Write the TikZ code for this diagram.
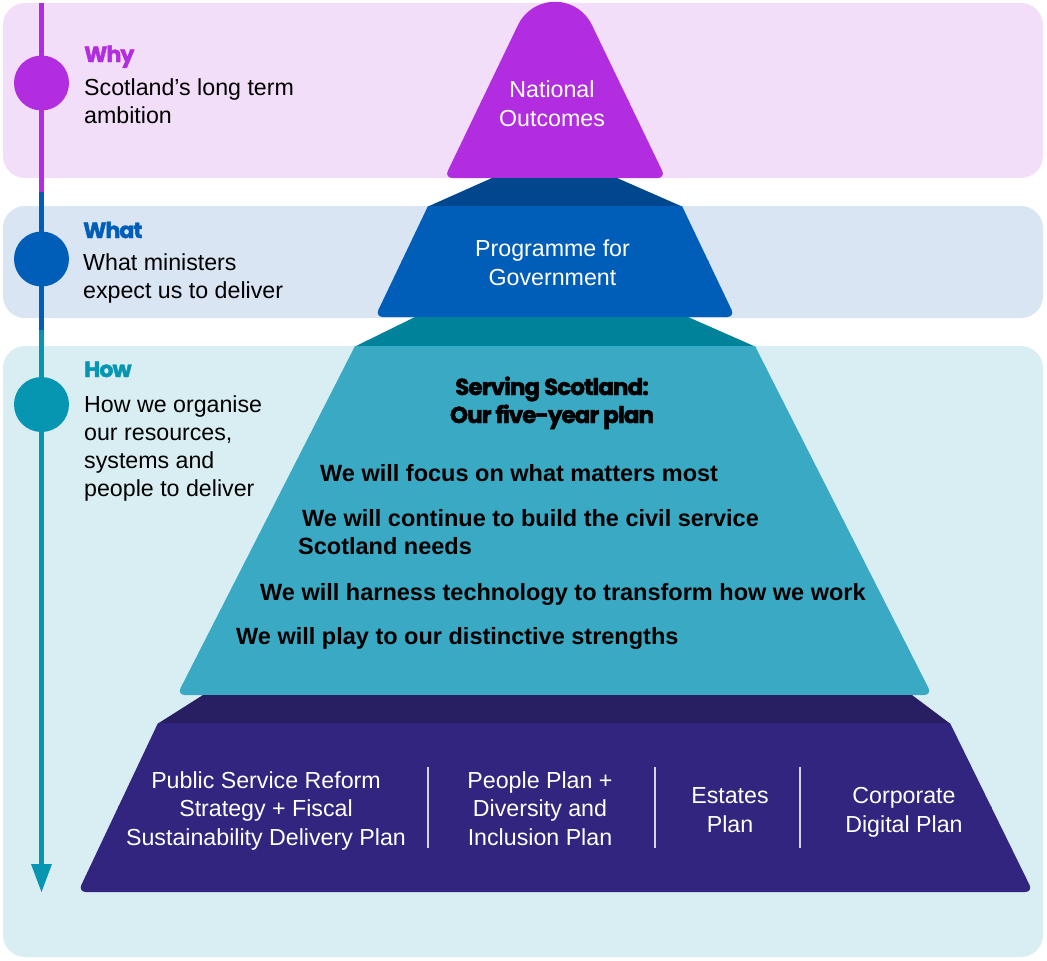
\documentclass[tikz,border=0pt]{standalone}
\usepackage{fontspec}
\setmainfont{Liberation Sans}
\newfontfamily\pop{Poppins}[LetterSpace=-4, BoldFeatures={FakeBold=2}]
\definecolor{whybg}{HTML}{F3DEF9}
\definecolor{whatbg}{HTML}{D9E5F3}
\definecolor{howbg}{HTML}{D9EEF3}
\definecolor{cwhy}{HTML}{B22DDF}
\definecolor{cwhat}{HTML}{005EB8}
\definecolor{chow}{HTML}{0696B2}
\definecolor{connA}{HTML}{00478D}
\definecolor{connB}{HTML}{00829B}
\definecolor{serv}{HTML}{3AA9C4}
\definecolor{connC}{HTML}{281E62}
\definecolor{basec}{HTML}{31257F}
\newcommand\pyrtrap[7]{%
  \begin{scope}
    \clip (0,{#2-1}) rectangle (1047,{(#2+#3)/2});
    \fill[#1] (#4,#2) -- (#5,#2) -- (#7,#3) -- (#6,#3) -- cycle;
  \end{scope}
  \begin{scope}
    \clip (0,{(#2+#3)/2-1}) rectangle (1047,{#3+2});
    \fill[#1,rounded corners=8] (#4,#2) -- (#5,#2) -- (#7,#3) -- (#6,#3) -- cycle;
  \end{scope}}
\tikzset{
  body/.style={font=\fontsize{23.2}{28}\selectfont, inner sep=0, anchor=base west},
  wtext/.style={font=\fontsize{23.2}{28}\selectfont, text=white, inner sep=0, anchor=base},
  btext/.style={font=\fontsize{23.5}{28}\selectfont\bfseries, inner sep=0, anchor=base west},
  head/.style={font=\pop\bfseries\fontsize{22}{26}\selectfont, inner sep=0, anchor=base west},
  title/.style={font=\pop\bfseries\fontsize{23}{26}\selectfont, inner sep=0, anchor=base},
  dot/.style={circle, inner sep=0, minimum size=55pt},
  divider/.style={draw=white, draw opacity=0.8, line width=1.2pt},
  band/.style={rounded corners=22},
}
\begin{document}
\begin{tikzpicture}[x=1pt,y=-1pt]
\useasboundingbox (0,0) rectangle (1047,961);
% bands
\fill[whybg, band] (3,3) rectangle (1043,178);
\fill[whatbg, band] (3,206) rectangle (1043,318);
\fill[howbg, band] (3,346) rectangle (1043,957);
% timeline
\fill[cwhy] (38.5,3) rectangle (43.5,192);
\fill[cwhat] (38.5,192) rectangle (43.5,330);
\fill[chow] (38.5,330) rectangle (43.5,866);
\fill[chow] (31,864) -- (52,864) -- (41.5,892) -- cycle;
\node[dot, fill=cwhy] (whydot) at (41.5,83) {};
\node[dot, fill=cwhat] (whatdot) at (41.5,259) {};
\node[dot, fill=chow] (howdot) at (41.5,404.5) {};
% National Outcomes
\begin{scope}
  \clip (0,-10) rectangle (1047,100);
  \fill[cwhy] (444.4,178) -- (518,25) arc[start angle=205.64, end angle=334.36, radius=41] -- (665.6,178) -- cycle;
\end{scope}
\begin{scope}
  \clip (0,99) rectangle (1047,180);
  \fill[cwhy, rounded corners=8] (444.4,178) -- (518,25) -- (592,25) -- (665.6,178) -- cycle;
\end{scope}
% connectors and layers
\fill[connA] (492,178) -- (617,178) -- (682,206.5) -- (428,206.5) -- cycle;
\pyrtrap{cwhat}{206}{317}{428}{682}{375}{735}
\fill[connB] (415,317) -- (688,317) -- (755,346.5) -- (355,346.5) -- cycle;
\pyrtrap{serv}{346}{695}{355}{755}{177}{932}
\fill[connC] (203,695) -- (912,695) -- (950,723.5) -- (158,723.5) -- cycle;
\pyrtrap{basec}{723}{892}{158}{950}{78}{1033}
% dividers
\coordinate (d1t) at (428,767); \coordinate (d1b) at (428,848);
\coordinate (d2t) at (655,767); \coordinate (d2b) at (655,848);
\coordinate (d3t) at (800,767); \coordinate (d3b) at (800,848);
\draw[divider] (d1t) -- (d1b);
\draw[divider] (d2t) -- (d2b);
\draw[divider] (d3t) -- (d3b);
% left labels
\node[head, text=cwhy] (why) at (84,62) {Why};
\node[body] (why1) at (84,95) {Scotland’s long term};
\node[body] (why2) at (84,123) {ambition};
\node[head, text=cwhat] (what) at (83,238) {What};
\node[body] (what1) at (83,270) {What ministers};
\node[body] (what2) at (83,298) {expect us to deliver};
\node[head, text=chow] (how) at (84,377) {How};
\node[body] (how1) at (84,412) {How we organise};
\node[body] (how2) at (84,440) {our resources,};
\node[body] (how3) at (84,468) {systems and};
\node[body] (how4) at (84,496) {people to deliver};
% pyramid texts
\node[wtext] (no1) at (552,97) {National};
\node[wtext] (no2) at (552,126) {Outcomes};
\node[wtext] (pg1) at (552.5,256) {Programme for};
\node[wtext] (pg2) at (552.5,285) {Government};
\node[title] (ss1) at (552,395) {Serving Scotland:};
\node[title] (ss2) at (552,423) {Our five-year plan};
\node[btext] (s1) at (320,481) {We will focus on what matters most};
\node[btext] (s2) at (302,526) {We will continue to build the civil service};
\node[btext] (s3) at (298,554) {Scotland needs};
\node[btext] (s4) at (260,600) {We will harness technology to transform how we work};
\node[btext] (s5) at (236,644) {We will play to our distinctive strengths};
% base texts
\node[wtext] (b1a) at (266,788) {Public Service Reform};
\node[wtext] (b1b) at (266,816) {Strategy + Fiscal};
\node[wtext] (b1c) at (266,845) {Sustainability Delivery Plan};
\node[wtext] (b2a) at (540,788) {People Plan +};
\node[wtext] (b2b) at (540,816) {Diversity and};
\node[wtext] (b2c) at (540,845) {Inclusion Plan};
\node[wtext] (b3a) at (730,803) {Estates};
\node[wtext] (b3b) at (730,832) {Plan};
\node[wtext] (b4a) at (904,803) {Corporate};
\node[wtext] (b4b) at (904,832) {Digital Plan};
\end{tikzpicture}
\end{document}
